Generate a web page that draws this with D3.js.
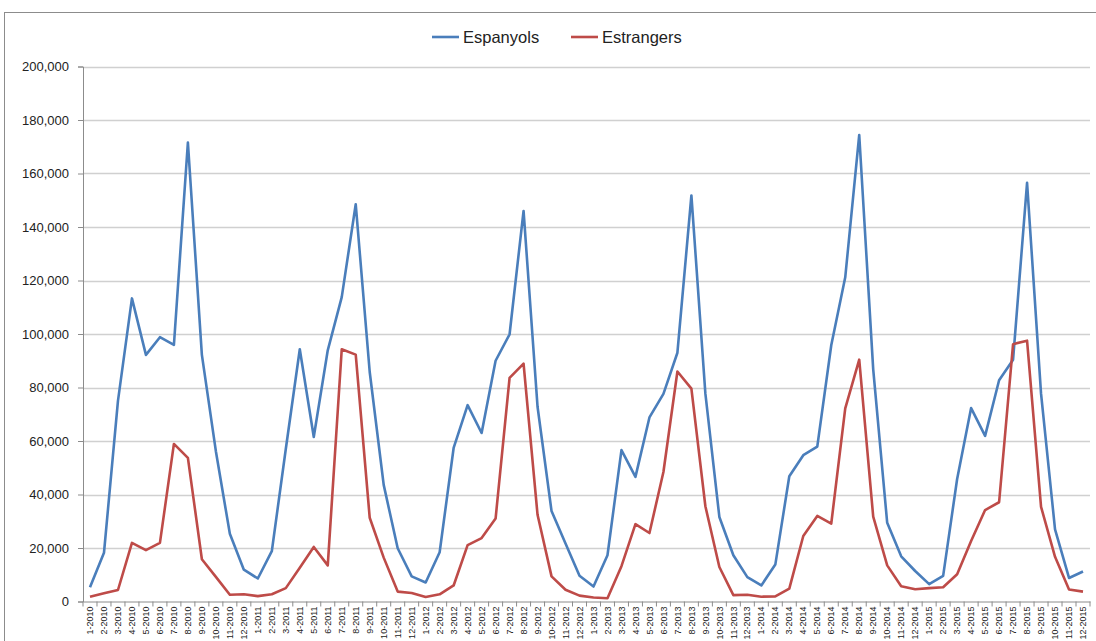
<!DOCTYPE html>
<html>
<head>
<meta charset="utf-8">
<script src="https://cdn.jsdelivr.net/npm/d3@7"></script>
<style>
  body { margin: 0; background: #fff; }
  text { font-family: "Liberation Sans", Arial, sans-serif; }
</style>
</head>
<body>
<svg id="chart" width="1096" height="641"></svg>
<script>
// months 1-2010 .. 12-2015
var years = [2010, 2011, 2012, 2013, 2014, 2015];
var months = [];
years.forEach(function(y){ for (var m = 1; m <= 12; m++) months.push(m + "-" + y); });

var espanyols = [
  5300, 18200, 75000, 113300, 92200, 98800, 95900, 171600, 92200, 56200, 25300, 11900,
  8600, 18800, 57000, 94300, 61500, 93900, 113800, 148500, 85800, 43600, 19900, 9400,
  7100, 18400, 57400, 73400, 63000, 90000, 99900, 146000, 72800, 33800, 21700, 9600,
  5600, 17300, 56600, 46600, 68800, 77600, 93000, 151800, 77700, 31600, 17300, 9100,
  6000, 13800, 46800, 54700, 57900, 95800, 121200, 174400, 86800, 29400, 16900, 11400,
  6500, 9600, 45800, 72300, 61900, 82700, 90400, 156500, 77700, 27000, 8800, 11200
];
var estrangers = [
  1800, 3100, 4300, 21900, 19200, 21900, 58900, 53700, 15800, 9200, 2500, 2700,
  2000, 2700, 5000, 12600, 20400, 13500, 94300, 92300, 31300, 16400, 3700, 3200,
  1700, 2700, 6000, 21100, 23700, 31000, 83600, 88900, 32400, 9400, 4400, 2200,
  1500, 1200, 13200, 28900, 25600, 48400, 86000, 79600, 35600, 12900, 2400, 2500,
  1800, 1900, 4800, 24500, 32000, 29100, 72200, 90400, 31700, 13500, 5700, 4600,
  5000, 5300, 10200, 22600, 34200, 37100, 96200, 97500, 35400, 16700, 4500, 3700
];
var yTicks = [0, 20000, 40000, 60000, 80000, 100000, 120000, 140000, 160000, 180000, 200000];
var series = [
  { name: "Espanyols", values: espanyols, color: "#4a7ebb" },
  { name: "Estrangers", values: estrangers, color: "#be4b48" }
];

var svg = d3.select("#chart");
var plotLeft = 83, plotRight = 1090, plotTop = 66.5, plotBottom = 601.5;

// chart frame
svg.append("rect")
  .attr("x", 4.5).attr("y", 12.5)
  .attr("width", 1200).attr("height", 800)
  .attr("fill", "none").attr("stroke", "#8c8c8c").attr("stroke-width", 1);

var x = d3.scaleBand().domain(months).range([plotLeft, plotRight]);
var y = d3.scaleLinear().domain([0, 200000]).range([plotBottom, plotTop]);

// gridlines
svg.append("g")
  .selectAll("line")
  .data(yTicks.slice(1))
  .enter().append("line")
  .attr("x1", plotLeft).attr("x2", plotRight)
  .attr("y1", function(d){ return Math.round(y(d)) + 0.5; })
  .attr("y2", function(d){ return Math.round(y(d)) + 0.5; })
  .attr("stroke", "#d0d0d0").attr("stroke-width", 1.5);

// y axis
var yAxis = svg.append("g")
  .attr("transform", "translate(" + plotLeft + ",0)")
  .call(d3.axisLeft(y).tickValues(yTicks).tickFormat(d3.format(",")).tickSizeOuter(0).tickSize(5).tickPadding(9));
yAxis.select(".domain").attr("stroke", "#8c8c8c");
yAxis.selectAll(".tick line").attr("stroke", "#8c8c8c");
yAxis.selectAll("text").attr("font-size", 13).attr("fill", "#222");

// x axis
var xAxis = svg.append("g")
  .attr("transform", "translate(0," + plotBottom + ")")
  .call(d3.axisBottom(x).tickSize(0).tickSizeOuter(0));
xAxis.select(".domain").attr("stroke", "#8c8c8c");
xAxis.selectAll("text")
  .attr("font-size", 9).attr("fill", "#222")
  .attr("transform", "rotate(-90)")
  .attr("text-anchor", "end")
  .attr("x", -5).attr("y", 0).attr("dy", "0.35em");

// category tick marks between bands
svg.append("g")
  .selectAll("line")
  .data(months.concat(["end"]))
  .enter().append("line")
  .attr("x1", function(d, i){ return plotLeft + i * x.step(); })
  .attr("x2", function(d, i){ return plotLeft + i * x.step(); })
  .attr("y1", plotBottom).attr("y2", plotBottom + 5)
  .attr("stroke", "#8c8c8c");

// lines
var line = d3.line()
  .x(function(d, i){ return x(months[i]) + x.bandwidth() / 2; })
  .y(function(d){ return y(d); });

svg.append("g")
  .selectAll("path")
  .data(series)
  .enter().append("path")
  .attr("d", function(d){ return line(d.values); })
  .attr("fill", "none")
  .attr("stroke", function(d){ return d.color; })
  .attr("stroke-width", 2.6)
  .attr("stroke-linejoin", "round");

// legend
var legend = svg.append("g");
var lx = [432, 571];
series.forEach(function(s, i){
  var g = legend.append("g").attr("transform", "translate(" + lx[i] + ",37)");
  g.append("line").attr("x1", 0).attr("x2", 27).attr("y1", 0).attr("y2", 0)
    .attr("stroke", s.color).attr("stroke-width", 2.6);
  g.append("text").attr("x", 31).attr("y", 0).attr("dy", "0.35em")
    .attr("font-size", 16.5).attr("fill", "#222").text(s.name);
});
</script>
</body>
</html>
